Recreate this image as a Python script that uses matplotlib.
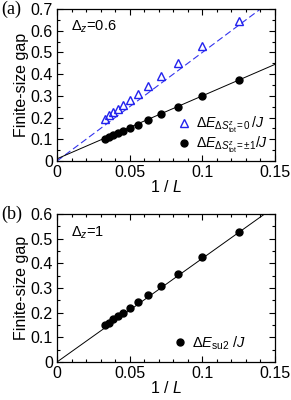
import matplotlib.pyplot as plt
from matplotlib.ticker import MultipleLocator

plt.rcParams['font.family'] = ['Liberation Sans', 'DejaVu Sans']
plt.rcParams['mathtext.fontset'] = 'custom'
plt.rcParams['mathtext.rm'] = 'Liberation Sans'
plt.rcParams['mathtext.it'] = 'Liberation Sans:italic'

# Data
inv_L = [0.125, 0.1, 0.0833, 0.0714, 0.0625, 0.0556, 0.05, 0.0455, 0.0417, 0.0385, 0.0357, 0.0333]
gap_s0 = [0.645, 0.53, 0.45, 0.39, 0.345, 0.31, 0.28, 0.258, 0.24, 0.225, 0.21, 0.195]
gap_s1 = [0.375, 0.30, 0.25, 0.215, 0.188, 0.168, 0.15, 0.138, 0.127, 0.12, 0.11, 0.10]
gap_su2 = [0.525, 0.425, 0.357, 0.308, 0.272, 0.243, 0.22, 0.20, 0.185, 0.173, 0.16, 0.148]

# Ajustes lineares (inclinação, intercepto)
fit_s0 = (5.0, 0.0)
fit_s1 = (2.9, 0.01)
fit_su2 = (4.2, 0.0)
x_fit = [0.0, 0.15]

fig = plt.figure(figsize=(2.91, 4.0), dpi=100)
ax1 = fig.add_axes([57/291, 1 - 161/400, 218/291, 152/400])
ax2 = fig.add_axes([57/291, 1 - 362/400, 218/291, 148/400])

ax1.plot(x_fit, [fit_s0[0]*x + fit_s0[1] for x in x_fit], '--', color='#3333ee', lw=0.8, dashes=(6, 3))
ax1.plot(x_fit, [fit_s1[0]*x + fit_s1[1] for x in x_fit], '-', color='black', lw=0.7)
ax1.plot(inv_L, gap_s0, '^', mfc='none', mec='#2222ee', ms=5.5, mew=1.0, ls='none',
         label=r'$\Delta E_{\Delta S^z_{\rm tot}\!=0}\,/J$')
ax1.plot(inv_L, gap_s1, 'o', color='black', ms=5, ls='none',
         label=r'$\Delta E_{\Delta S^z_{\rm tot}\!=\pm1}/J$')
ax1.set_ylim(0, 0.7)
ax1.text(0.0097, 0.62, r'$\Delta_z$=0.6', fontsize=10.5, va='center')
ax1.legend(loc='lower right', frameon=False, fontsize=10.2, handlelength=0.8,
           handletextpad=0.4, borderaxespad=0.1, labelspacing=0.0,
           bbox_to_anchor=(1.0, -0.01))

ax2.plot(x_fit, [fit_su2[0]*x + fit_su2[1] for x in x_fit], '-', color='black', lw=0.7)
ax2.plot(inv_L, gap_su2, 'o', color='black', ms=5, ls='none', label=r'$\Delta E_{\rm su2}\ /J$')
ax2.set_ylim(0, 0.6)
ax2.text(0.0097, 0.523, r'$\Delta_z$=1', fontsize=10.5, va='center')
ax2.legend(loc='lower right', frameon=False, fontsize=10.5, handlelength=0.8,
           handletextpad=0.4, bbox_to_anchor=(0.925, -0.02))

for ax, lab in [(ax1, '(a)'), (ax2, '(b)')]:
    ax.set_xlim(0, 0.15)
    ax.xaxis.set_major_locator(MultipleLocator(0.05))
    ax.xaxis.set_minor_locator(MultipleLocator(0.01))
    ax.yaxis.set_major_locator(MultipleLocator(0.1))
    ax.yaxis.set_minor_locator(MultipleLocator(0.05))
    ax.xaxis.set_major_formatter(plt.FuncFormatter(lambda v, p: '0' if v == 0 else ('%g' % v)))
    ax.yaxis.set_major_formatter(plt.FuncFormatter(lambda v, p: '0' if v == 0 else ('%g' % v)))
    ax.tick_params(which='both', direction='in', top=True, right=True, labelsize=11.5, width=0.8)
    ax.tick_params(which='major', length=4, pad=3)
    ax.tick_params(which='minor', length=2)
    for s in ax.spines.values():
        s.set_linewidth(0.9)
    ax.set_xlabel(r'1 / $\it{L}$', fontsize=11.5, labelpad=-1)
    ax.set_ylabel('Finite-size gap', fontsize=11.5, labelpad=1)
    ax.text(-0.258, 1.0, lab, transform=ax.transAxes, fontsize=13, family='Liberation Serif',
            va='center', ha='left')

fig.savefig('out.png', dpi=100)
